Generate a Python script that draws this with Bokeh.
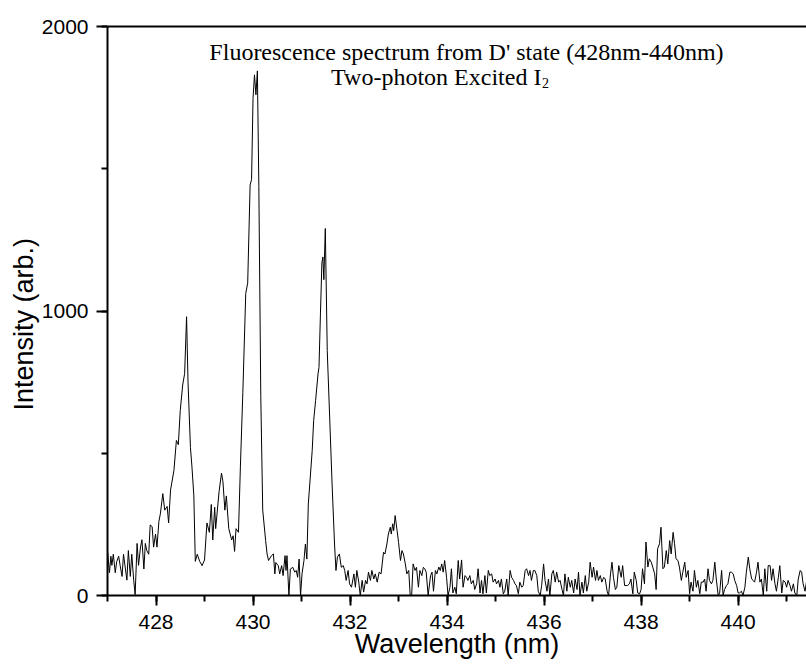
from bokeh.plotting import figure
from bokeh.models import Range1d, SingleIntervalTicker, LinearAxis, Label, FixedTicker, Title
from bokeh.embed import file_html
from bokeh.resources import INLINE

# ---- data (wavelength in nm, intensity in arb. units) ----
wavelength = [
    427.00, 427.04, 427.07, 427.09, 427.12, 427.16, 427.19, 427.23, 427.26, 427.30,
    427.33, 427.37, 427.40, 427.43, 427.47, 427.50, 427.54, 427.57, 427.61, 427.64,
    427.68, 427.71, 427.75, 427.78, 427.81, 427.85, 427.88, 427.92, 427.95, 427.99,
    428.02, 428.06, 428.09, 428.14, 428.18, 428.23, 428.26, 428.30, 428.37, 428.42,
    428.46, 428.50, 428.55, 428.59, 428.63, 428.66, 428.71, 428.74, 428.78, 428.81,
    428.85, 428.90, 428.95, 429.00, 429.05, 429.10, 429.14, 429.17, 429.21, 429.23,
    429.30, 429.35, 429.38, 429.42, 429.45, 429.50, 429.56, 429.59, 429.62, 429.65,
    429.70, 429.74, 429.79, 429.85, 429.89, 429.94, 429.97, 430.00, 430.03, 430.06,
    430.09, 430.12, 430.16, 430.20, 430.26, 430.29, 430.32, 430.38, 430.42, 430.45,
    430.47, 430.52, 430.55, 430.59, 430.62, 430.66, 430.68, 430.70, 430.74, 430.77,
    430.82, 430.86, 430.89, 430.92, 430.95, 430.98, 431.01, 431.05, 431.08, 431.11,
    431.14, 431.17, 431.22, 431.25, 431.29, 431.34, 431.36, 431.39, 431.42, 431.44,
    431.46, 431.49, 431.53, 431.58, 431.63, 431.68, 431.71, 431.74, 431.78, 431.82,
    431.86, 431.89, 431.92, 431.96, 431.99, 432.03, 432.08, 432.11, 432.14, 432.18,
    432.21, 432.25, 432.28, 432.32, 432.35, 432.38, 432.42, 432.45, 432.49, 432.52,
    432.56, 432.60, 432.64, 432.69, 432.72, 432.76, 432.79, 432.83, 432.85, 432.88,
    432.90, 432.93, 432.97, 433.00, 433.04, 433.07, 433.10, 433.14, 433.17, 433.21,
    433.24, 433.27, 433.30, 433.34, 433.37, 433.41, 433.44, 433.48, 433.51, 433.54,
    433.57, 433.61, 433.66, 433.69, 433.72, 433.76, 433.79, 433.83, 433.86, 433.89,
    433.92, 433.95, 433.99, 434.02, 434.06, 434.09, 434.12, 434.16, 434.19, 434.23,
    434.26, 434.30, 434.33, 434.37, 434.40, 434.43, 434.47, 434.50, 434.54, 434.57,
    434.61, 434.64, 434.68, 434.71, 434.74, 434.78, 434.81, 434.85, 434.88, 434.92,
    434.95, 434.99, 435.02, 435.06, 435.09, 435.12, 435.16, 435.19, 435.23, 435.26,
    435.30, 435.33, 435.37, 435.40, 435.43, 435.47, 435.50, 435.54, 435.57, 435.61,
    435.64, 435.68, 435.71, 435.74, 435.78, 435.81, 435.85, 435.88, 435.92, 435.95,
    435.99, 436.02, 436.06, 436.09, 436.12, 436.16, 436.19, 436.23, 436.26, 436.30,
    436.33, 436.37, 436.40, 436.43, 436.47, 436.50, 436.54, 436.57, 436.61, 436.64,
    436.68, 436.71, 436.74, 436.78, 436.81, 436.85, 436.88, 436.92, 436.95, 436.99,
    437.02, 437.06, 437.09, 437.12, 437.16, 437.19, 437.23, 437.26, 437.30, 437.33,
    437.37, 437.40, 437.43, 437.47, 437.50, 437.54, 437.59, 437.62, 437.66, 437.69,
    437.72, 437.76, 437.79, 437.83, 437.86, 437.90, 437.93, 437.97, 438.00, 438.03,
    438.07, 438.10, 438.14, 438.17, 438.21, 438.24, 438.28, 438.31, 438.34, 438.38,
    438.41, 438.45, 438.48, 438.52, 438.55, 438.59, 438.62, 438.66, 438.69, 438.72,
    438.76, 438.79, 438.83, 438.86, 438.90, 438.93, 438.97, 439.00, 439.03, 439.07,
    439.10, 439.14, 439.17, 439.21, 439.24, 439.28, 439.31, 439.34, 439.38, 439.41,
    439.45, 439.48, 439.52, 439.55, 439.59, 439.62, 439.66, 439.69, 439.72, 439.76,
    439.79, 439.83, 439.86, 439.90, 439.93, 439.97, 440.00, 440.03, 440.07, 440.10,
    440.14, 440.17, 440.21, 440.24, 440.28, 440.31, 440.34, 440.38, 440.41, 440.45,
    440.48, 440.52, 440.55, 440.59, 440.62, 440.66, 440.69, 440.72, 440.76, 440.79,
    440.83, 440.86, 440.90, 440.93, 440.97, 441.00, 441.03, 441.07, 441.10, 441.14,
    441.17, 441.21, 441.24, 441.28, 441.31, 441.34, 441.38, 441.42, 441.45, 441.48,
]

intensity = [
    158, 80, 138, 106, 145, 80, 119, 138, 106, 67,
    145, 93, 54, 158, 67, 145, 54, 3, 183, 106,
    170, 196, 93, 183, 158, 145, 248, 242, 170, 216,
    170, 261, 287, 358, 300, 313, 255, 371, 440, 545,
    530, 650, 740, 780, 980, 750, 520, 455, 350, 120,
    145, 120, 105, 125, 255, 222, 320, 195, 310, 235,
    365, 430, 400, 300, 350, 235, 195, 210, 155, 235,
    222, 455, 713, 1062, 1098, 1443, 1462, 1747, 1830, 1760,
    1844, 1437, 700, 300, 193, 146, 123, 140, 146, 76,
    116, 105, 76, 105, 70, 140, 88, 140, 0, 93,
    99, 82, 88, 64, 128, 0, 76, 123, 181, 128,
    322, 392, 510, 615, 685, 779, 802, 990, 1170, 1190,
    1110, 1290, 861, 627, 392, 181, 88, 135, 146, 99,
    105, 88, 53, 88, 41, 29, 76, 29, 88, 47,
    0, 53, 12, 53, 41, 82, 53, 88, 58, 76,
    47, 82, 76, 152, 146, 181, 216, 240, 216, 252,
    228, 281, 228, 187, 123, 158, 146, 111, 76, 88,
    0, 0, 111, 88, 99, 29, 88, 70, 99, 94,
    82, 0, 70, 82, 15, 88, 76, 100, 88, 111,
    82, 123, 64, 0, 29, 94, 9, 29, 6, 123,
    58, 125, 29, 70, 64, 53, 70, 41, 53, 21,
    41, 94, 9, 53, 6, 70, 9, 88, 70, 76,
    47, 58, 41, 53, 29, 58, 6, 15, 58, 0,
    88, 64, 53, 41, 35, 6, 47, 29, 35, 88,
    94, 70, 88, 53, 88, 88, 70, 15, 0, 35,
    111, 53, 15, 58, 0, 76, 88, 47, 82, 47,
    53, 21, 0, 76, 15, 64, 29, 53, 9, 58,
    21, 82, 0, 47, 9, 70, 15, 47, 117, 64,
    100, 53, 88, 53, 70, 47, 64, 58, 15, 0,
    76, 117, 64, 21, 29, 105, 64, 105, 35, 35,
    35, 41, 58, 6, 82, 53, 9, 6, 21, 94,
    41, 188, 100, 129, 117, 100, 76, 21, 164, 182,
    240, 94, 100, 158, 111, 193, 146, 222, 182, 129,
    123, 100, 53, 82, 117, 64, 88, 6, 47, 15,
    88, 29, 53, 6, 47, 47, 58, 15, 94, 53,
    41, 53, 117, 58, 0, 9, 88, 0, 21, 35,
    41, 82, 82, 76, 53, 35, 9, 9, 15, 0,
    29, 82, 135, 94, 58, 53, 47, 82, 117, 47,
    58, 0, 94, 15, 105, 105, 53, 94, 41, 15,
    64, 105, 9, 53, 47, 29, 53, 35, 15, 41,
    9, 0, 58, 88, 82, 41, 15, 60, 30, 50,
]

x_label = "Wavelength (nm)"
y_label = "Intensity (arb.)"
title_line1 = "Fluorescence spectrum from D' state (428nm-440nm)"
title_line2 = "Two-photon Excited I"
title_sub = "2"

p = figure(width=806, height=665, output_backend="svg", toolbar_location=None,
           x_range=Range1d(427.0, 441.41), y_range=Range1d(0, 2000),
           min_border_left=107, min_border_right=0, min_border_top=26,
           min_border_bottom=70)
p.outline_line_color = None
p.grid.visible = False
p.background_fill_color = "white"
p.border_fill_color = "white"

p.line(wavelength, intensity, line_color="black", line_width=1)

sans = "Liberation Sans"
for ax in (p.xaxis[0], p.yaxis[0]):
    ax.axis_line_width = 2
    ax.axis_line_color = "black"
    ax.major_tick_line_width = 2
    ax.minor_tick_line_width = 2
    ax.major_tick_in = 0
    ax.minor_tick_in = 0
    ax.major_label_text_font = sans
    ax.major_label_text_font_size = "21px"
    ax.major_label_text_color = "black"
    ax.axis_label_text_font = sans
    ax.axis_label_text_font_size = "27px"
    ax.axis_label_text_font_style = "normal"
    ax.axis_label_text_color = "black"

xa = p.xaxis[0]
xa.ticker = SingleIntervalTicker(interval=2, num_minor_ticks=2)
xa.major_tick_out = 10
xa.minor_tick_out = 6
xa.major_label_standoff = 9
xa.axis_label = x_label
xa.axis_label_standoff = -3

ya = p.yaxis[0]
ya.ticker = SingleIntervalTicker(interval=1000, num_minor_ticks=2)
ya.major_tick_out = 11
ya.minor_tick_out = 6
ya.major_label_standoff = 8

# y-axis title: a side title placed just outside the tick labels
p.add_layout(Title(text=y_label, align="left", offset=185, standoff=0,
                   text_font=sans, text_font_size="27px",
                   text_font_style="normal", text_color="black"), "left")

top = LinearAxis(ticker=FixedTicker(ticks=[]), major_label_text_font_size="0px",
                 axis_line_width=2, axis_line_color="black",
                 major_tick_out=0, minor_tick_out=0)
p.add_layout(top, "above")

serif = "Liberation Serif"
p.add_layout(Label(x=429.1, y=1909, text=title_line1, text_font=serif,
                   text_font_size="24px", text_color="black",
                   text_baseline="alphabetic", text_align="left"))
p.add_layout(Label(x=431.61, y=1821, text=title_line2, text_font=serif,
                   text_font_size="24px", text_color="black",
                   text_baseline="alphabetic", text_align="left"))
p.add_layout(Label(x=431.61, y=1821, x_offset=211, y_offset=-6, text=title_sub,
                   text_font=serif, text_font_size="14px", text_color="black",
                   text_baseline="alphabetic", text_align="left"))

open("out.html", "w").write(file_html(p, INLINE))
